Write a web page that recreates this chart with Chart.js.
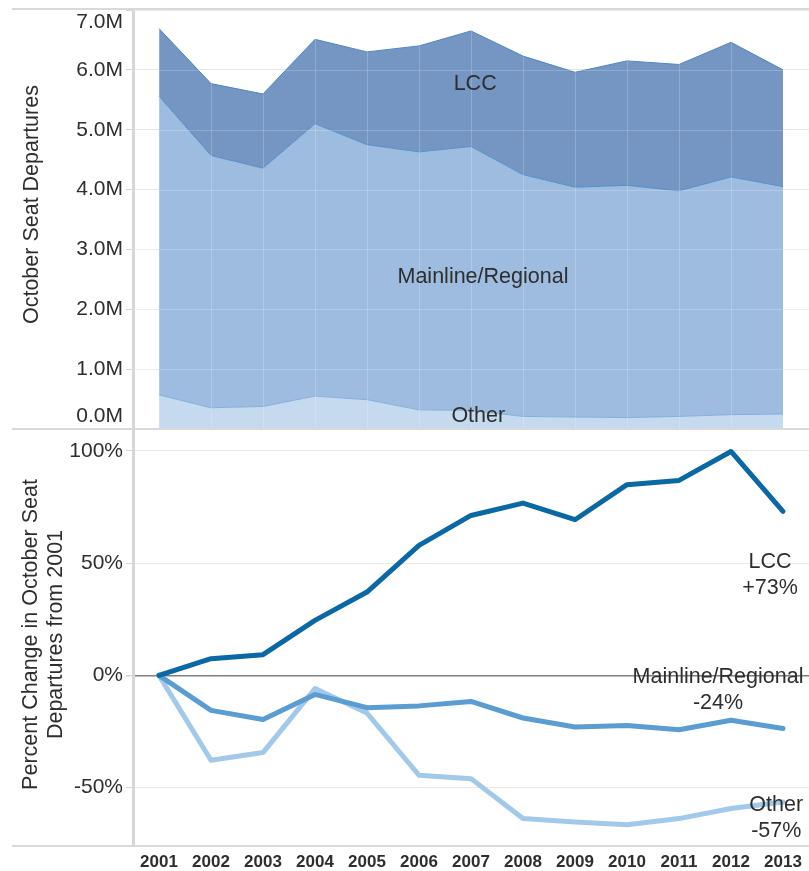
<!DOCTYPE html>
<html>
<head>
<meta charset="utf-8">
<script src="https://cdn.jsdelivr.net/npm/chart.js@4.4.0/dist/chart.umd.min.js"></script>
<style>
  html, body { margin: 0; padding: 0; background: #fff; }
  #wrap { position: relative; width: 809px; height: 871px; }
</style>
</head>
<body>
<div id="wrap"><canvas id="chart" width="809" height="871"></canvas></div>
<script>
const years = ['2001','2002','2003','2004','2005','2006','2007','2008','2009','2010','2011','2012','2013'];

// October seat departures, millions (stacked)
const otherSeats    = [0.57, 0.355, 0.377, 0.55, 0.49, 0.32, 0.31, 0.21, 0.20, 0.19, 0.21, 0.24, 0.25];
const mainlineSeats = [4.99, 4.215, 3.98, 4.55, 4.26, 4.31, 4.41, 4.04, 3.84, 3.88, 3.77, 3.97, 3.80];
const lccSeats      = [1.13, 1.20, 1.24, 1.41, 1.55, 1.77, 1.93, 1.98, 1.92, 2.08, 2.11, 2.25, 1.95];

// percent change from 2001
const lccPct      = [0, 7.4, 9.2, 24.5, 37.1, 57.9, 71.2, 76.7, 69.3, 84.9, 86.8, 99.7, 73.0];
const mainlinePct = [0, -15.6, -19.7, -8.5, -14.4, -13.6, -11.6, -19.0, -23.0, -22.3, -24.2, -20.0, -23.7];
const otherPct    = [0, -37.8, -34.4, -5.9, -16.8, -44.5, -46.0, -63.8, -65.3, -66.5, -63.8, -59.3, -56.4];

const seatTicks = [0, 1, 2, 3, 4, 5, 6, 7];
const pctTicks  = [-50, 0, 50, 100];

// text labels: [lines, x index, y value]
const seatNotes = [
  [['LCC'], 6.08, 5.76],
  [['Mainline/Regional'], 6.23, 2.54],
  [['Other'], 6.14, 0.22]
];
const pctNotes = [
  [['LCC', '+73%'], 11.75, 50.4],
  [['Mainline/Regional', '-24%'], 10.75, -0.8],
  [['Other', '-57%'], 11.87, -57.9]
];

const FONT = '"Liberation Sans", Arial, sans-serif';
const TEXT = '#2e2e2e';

const overlay = {
  id: 'overlay',
  afterDatasetsDraw(chart) {
    const ctx = chart.ctx, a = chart.chartArea;
    const x = chart.scales.x, yTop = chart.scales.yTop, yBot = chart.scales.yBot;
    ctx.save();
    // light grid over the areas
    ctx.strokeStyle = 'rgba(255,255,255,0.2)';
    ctx.lineWidth = 1;
    ctx.beginPath();
    yTop.ticks.forEach(t => {
      const py = Math.round(yTop.getPixelForValue(t.value)) + 0.5;
      ctx.moveTo(a.left, py); ctx.lineTo(a.right, py);
    });
    x.ticks.forEach((t, i) => {
      const px = Math.round(x.getPixelForTick(i)) + 0.5;
      ctx.moveTo(px, yTop.top); ctx.lineTo(px, yTop.bottom);
    });
    ctx.stroke();
    // pane borders
    ctx.strokeStyle = '#d9d9d9';
    ctx.lineWidth = 2;
    ctx.beginPath();
    [yTop.top - 1, yTop.bottom, yBot.bottom].forEach(py => {
      ctx.moveTo(12, py); ctx.lineTo(chart.width, py);
    });
    ctx.stroke();
    // labels
    ctx.fillStyle = TEXT;
    ctx.font = '21.5px ' + FONT;
    ctx.textAlign = 'center';
    ctx.textBaseline = 'middle';
    function notes(list, scale) {
      list.forEach(n => {
        const px = x.getPixelForValue(n[1]);
        const py = scale.getPixelForValue(n[2]);
        n[0].forEach((line, i) => ctx.fillText(line, px, py + i * 26));
      });
    }
    notes(seatNotes, yTop);
    notes(pctNotes, yBot);
    ctx.restore();
  }
};

function fitLeft(scale) {
  scale.width = 133;
  scale.paddingTop = 0;
  scale.paddingBottom = 0;
}

// keep the end labels of the seat axis inside the pane
function seatLabel(v, i, ticks) {
  const s = v.toFixed(1) + 'M';
  if (i === 0) return [s, ''];
  if (i === ticks.length - 1) return ['', s];
  return s;
}

new Chart(document.getElementById('chart').getContext('2d'), {
  type: 'line',
  data: {
    labels: years,
    datasets: [
      { data: otherSeats, yAxisID: 'yTop', order: 1, fill: 'origin', backgroundColor: '#c5d9ef', borderColor: '#7fb0dd', borderWidth: 1, pointRadius: 0 },
      { data: mainlineSeats, yAxisID: 'yTop', order: 1, fill: '-1', backgroundColor: '#9ebcdf', borderColor: '#4f8fca', borderWidth: 1, pointRadius: 0 },
      { data: lccSeats, yAxisID: 'yTop', order: 1, fill: '-1', backgroundColor: '#7596c2', borderColor: '#4f86bf', borderWidth: 1, pointRadius: 0 },
      { data: lccPct, yAxisID: 'yBot', order: 0, fill: false, borderColor: '#0a68a5', borderWidth: 5, pointRadius: 0, borderCapStyle: 'round', borderJoinStyle: 'round' },
      { data: mainlinePct, yAxisID: 'yBot', order: 0, fill: false, borderColor: '#5b9cd1', borderWidth: 5, pointRadius: 0, borderCapStyle: 'round', borderJoinStyle: 'round' },
      { data: otherPct, yAxisID: 'yBot', order: 0, fill: false, borderColor: '#a2c8ea', borderWidth: 5, pointRadius: 0, borderCapStyle: 'round', borderJoinStyle: 'round' }
    ]
  },
  options: {
    responsive: false,
    animation: false,
    devicePixelRatio: 1,
    layout: { padding: { top: 10, right: 0, bottom: 0, left: 0 } },
    plugins: { legend: { display: false }, tooltip: { enabled: false } },
    elements: { line: { tension: 0 } },
    scales: {
      x: {
        offset: true,
        grid: { display: false, drawTicks: false },
        border: { display: false },
        ticks: { color: TEXT, padding: 6, autoSkip: false, font: { family: FONT, size: 17, weight: 'bold' }, maxRotation: 0 },
        afterFit: s => { s.height = 25; s.paddingLeft = 0; s.paddingRight = 0; }
      },
      yBot: {
        position: 'left',
        stack: 'panes',
        stackWeight: 417,
        weight: 0,
        min: -76,
        max: 109.7,
        afterBuildTicks: s => { s.ticks = pctTicks.map(v => ({ value: v })); },
        ticks: { color: TEXT, padding: 3, autoSkip: false, font: { family: FONT, size: 21 }, callback: v => v + '%' },
        grid: {
          color: c => (c.tick && c.tick.value === 0) ? '#7f7f7f' : '#e8e8e8',
          lineWidth: c => (c.tick && c.tick.value === 0) ? 1.5 : 1,
          tickLength: 7,
          tickColor: '#d4d4d4'
        },
        border: { display: true, color: '#d6d6d6', width: 3 },
        title: {
          display: true,
          text: [' Percent Change in October Seat', ' Departures from 2001'],
          color: TEXT,
          font: { family: FONT, size: 21.5, lineHeight: 1.163 },
          padding: { top: 19, bottom: 0 }
        },
        afterFit: fitLeft
      },
      yTop: {
        position: 'left',
        stack: 'panes',
        stackWeight: 419,
        weight: 1,
        stacked: true,
        min: 0,
        max: 7,
        afterBuildTicks: s => { s.ticks = seatTicks.map(v => ({ value: v })); },
        ticks: { color: TEXT, padding: 3, autoSkip: false, font: { family: FONT, size: 21, lineHeight: 1.2 }, callback: seatLabel },
        grid: { color: '#e6e6e6', lineWidth: 1, tickLength: 7, tickColor: '#d4d4d4' },
        border: { display: true, color: '#d6d6d6', width: 3 },
        title: {
          display: true,
          text: '     October Seat Departures',
          color: TEXT,
          font: { family: FONT, size: 21.5, lineHeight: 1.2 },
          padding: { top: 19, bottom: 0 }
        },
        afterFit: fitLeft
      }
    }
  },
  plugins: [overlay]
});
</script>
</body>
</html>
